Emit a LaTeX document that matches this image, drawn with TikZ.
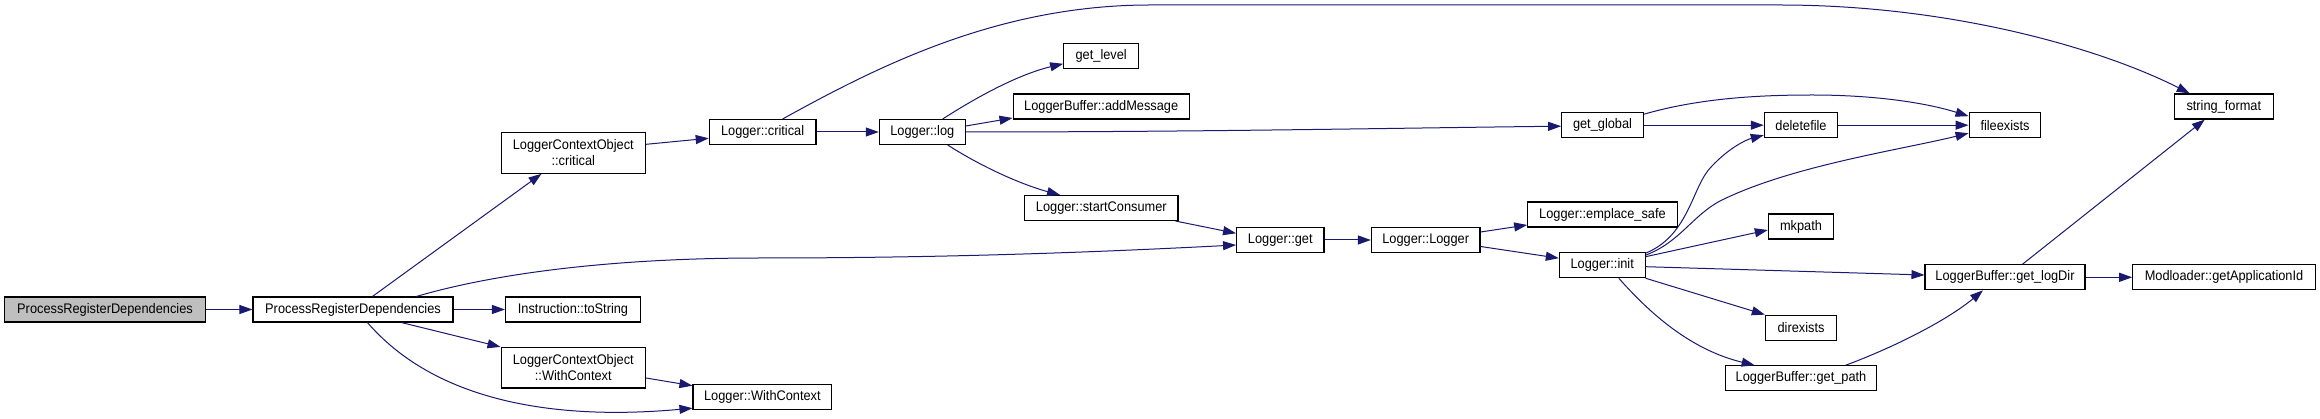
\documentclass[tikz,border=0pt]{standalone}
\usepackage{fontspec}
\setmainfont[FakeStretch=0.92]{Liberation Sans}
\usetikzlibrary{arrows.meta}
\definecolor{edgeblue}{HTML}{191970}
\definecolor{graybox}{HTML}{BFBFBF}
\begin{document}
\begin{tikzpicture}[x=1pt,y=-1pt,
  fn/.style={draw=black, line width=1.1pt, fill=white, inner sep=0pt,
    font=\fontsize{13.9}{16}\selectfont, align=center, minimum height=25pt},
  fn2/.style={fn, minimum height=40.5pt},
  call/.style={draw=edgeblue, line width=1pt, -{Triangle[length=13pt,width=9pt]}}
]
\useasboundingbox (0,0) rectangle (2320,419);
\fill[white] (0,0) rectangle (2320,419);

% nodes
\node[fn, fill=graybox, minimum width=201pt] (prd0) at (105,309.5) {ProcessRegisterDependencies};
\node[fn, minimum width=200pt] (prd) at (353,309.5) {ProcessRegisterDependencies};
\node[fn2, minimum width=144.5pt] (lcocrit) at (573.3,153) {LoggerContextObject\\::critical};
\node[fn, minimum width=135pt] (tostr) at (573,309.5) {Instruction::toString};
\node[fn2, minimum width=144.5pt] (lcowc) at (573.3,367.7) {LoggerContextObject\\::WithContext};
\node[fn, minimum width=138.8pt] (lwc) at (762.4,397.2) {Logger::WithContext};
\node[fn, minimum width=106.7pt] (lcrit) at (762.6,132) {Logger::critical};
\node[fn, minimum width=86pt] (llog) at (922.3,132) {Logger::log};
\node[fn, minimum width=75pt] (getlevel) at (1101.2,55.8) {get\_level};
\node[fn, minimum width=176.3pt] (addmsg) at (1101.2,106.5) {LoggerBuffer::addMessage};
\node[fn, minimum width=153.4pt] (startc) at (1101.3,208) {Logger::startConsumer};
\node[fn, minimum width=81.7pt] (getglobal) at (1602.5,125.2) {get\_global};
\node[fn, minimum width=87.4pt] (lget) at (1280.3,240) {Logger::get};
\node[fn, minimum width=108.6pt] (llogger) at (1425.7,240) {Logger::Logger};
\node[fn, minimum width=149.6pt] (emplace) at (1602.5,214.5) {Logger::emplace\_safe};
\node[fn, minimum width=85.7pt] (linit) at (1602.2,265.2) {Logger::init};
\node[fn, minimum width=73.4pt] (deletefile) at (1801,125.2) {deletefile};
\node[fn, minimum width=71.8pt] (fileexists) at (2005,125.2) {fileexists};
\node[fn, minimum width=99pt] (strfmt) at (2223.8,106.5) {string\_format};
\node[fn, minimum width=65.3pt] (mkpath) at (1801,226.5) {mkpath};
\node[fn, minimum width=160pt] (getlogdir) at (2005,277.3) {LoggerBuffer::get\_logDir};
\node[fn, minimum width=182.5pt] (appid) at (2224,277.3) {Modloader::getApplicationId};
\node[fn, minimum width=71.3pt] (direxists) at (1801,327.7) {direxists};
\node[fn, minimum width=151.7pt] (getpath) at (1801,378.3) {LoggerBuffer::get\_path};

% edges
\draw[call] (prd0.east) -- (prd.west);
\draw[call] ([xshift=120pt]prd.north west) -- ([xshift=41pt]lcocrit.south west);
\draw[call] ([xshift=164pt]prd.north west) .. controls (500,272) and (620,258) .. (760,258)
  .. controls (950,258) and (1100,252) .. ([yshift=-5pt]lget.west);
\draw[call] (prd.east) -- (tostr.west);
\draw[call] ([xshift=149pt]prd.south west) -- (lcowc.north west);
\draw[call] ([xshift=115pt]prd.south west) .. controls (430,395) and (540,422) .. ([yshift=-11pt]lwc.west);
\draw[call] ([yshift=8.7pt]lcocrit.east) -- ([yshift=-6.3pt]lcrit.west);
\draw[call] ([yshift=-10.3pt]lcowc.east) -- ([yshift=11.5pt]lwc.west);
\draw[call] (lcrit.east) -- (llog.west);
\draw[call] ([xshift=74pt]lcrit.north west) .. controls (880,65) and (1000,5) .. (1150,5)
  -- (1780,5) .. controls (1950,5) and (2100,48) .. ([xshift=16pt]strfmt.north west);
\draw[call] ([xshift=64pt]llog.north west) .. controls (980,95) and (1020,74) .. ([yshift=-8pt]getlevel.west);
\draw[call] ([yshift=6pt]llog.east) -- ([yshift=-11.5pt]addmsg.west);
\draw[call] (llog.east) .. controls (1200,132) and (1400,128) .. ([yshift=-1pt]getglobal.west);
\draw[call] ([xshift=69pt]llog.south west) .. controls (990,172) and (1030,187) .. ([xshift=36pt]startc.north west);
\draw[call] ([xshift=-3pt]startc.south east) -- ([yshift=6.7pt]lget.west);
\draw[call] (lget.east) -- (llogger.west);
\draw[call] ([yshift=8pt]llogger.east) -- ([yshift=-10.5pt]emplace.west);
\draw[call] ([yshift=-6.5pt]llogger.east) -- ([yshift=7pt]linit.west);
\draw[call] (getglobal.east) -- (deletefile.west);
\draw[call] ([yshift=11pt]getglobal.east) .. controls (1700,98) and (1760,95) .. (1812,95)
  .. controls (1880,95) and (1930,104) .. ([yshift=9pt]fileexists.west);
\draw[call] (deletefile.east) -- (fileexists.west);
\draw[call] ([yshift=12pt]linit.east) .. controls (1690,235) and (1692,185) .. (1712,166)
  .. controls (1728,149) and (1745,140) .. ([yshift=-10pt]deletefile.west);
\draw[call] ([yshift=10pt]linit.east) .. controls (1680,242) and (1692,216) .. (1720,201)
  .. controls (1790,166) and (1900,150) .. ([yshift=-8pt]fileexists.west);
\draw[call] ([yshift=8.5pt]linit.east) -- ([yshift=-3.5pt]mkpath.west);
\draw[call] ([yshift=-1.5pt]linit.east) -- ([yshift=2.3pt]getlogdir.west);
\draw[call] (linit.south east) -- (direxists.north west);
\draw[call] ([xshift=60pt]linit.south west) .. controls (1660,325) and (1700,352) .. ([xshift=30pt]getpath.north west);
\draw[call] ([xshift=98pt]getlogdir.north west) -- ([xshift=31pt]strfmt.south west);
\draw[call] (getlogdir.east) -- (appid.west);
\draw[call] ([xshift=121pt]getpath.north west) .. controls (1900,345) and (1950,318) .. ([xshift=58.5pt]getlogdir.south west);
\end{tikzpicture}
\end{document}
